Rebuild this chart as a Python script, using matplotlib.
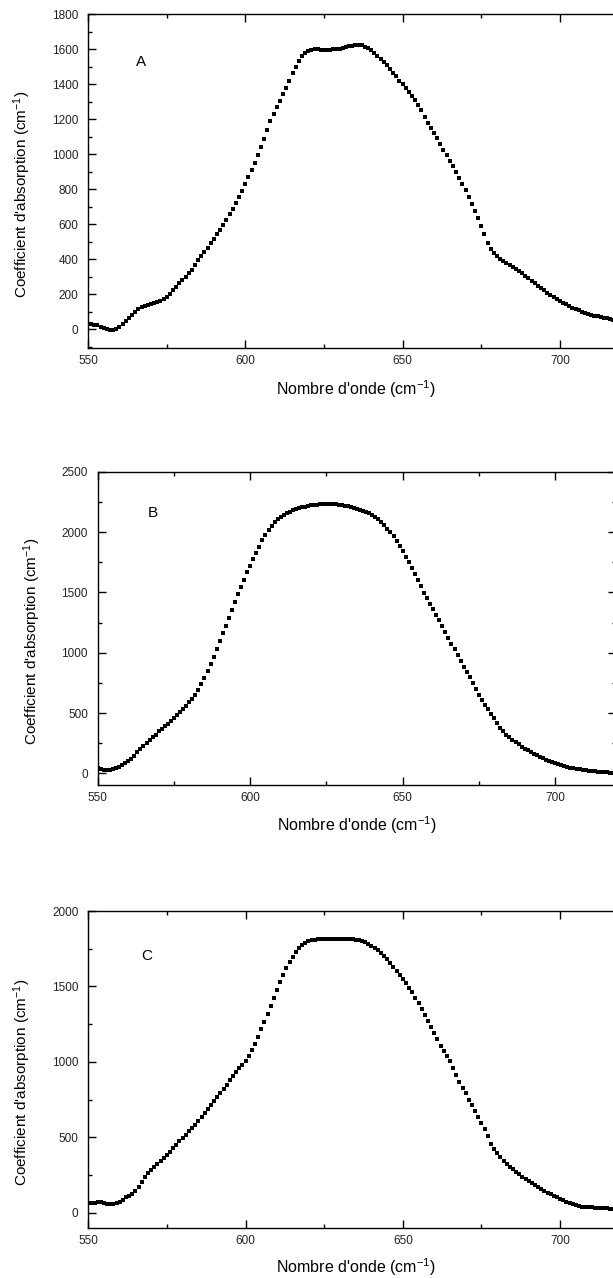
import numpy as np
import matplotlib
matplotlib.use("Agg")
import matplotlib.pyplot as plt
from matplotlib.ticker import MultipleLocator

plt.rcParams['font.family'] = ['Liberation Sans', 'DejaVu Sans']
plt.rcParams['mathtext.default'] = 'regular'

# Nombre d'onde (cm-1), un point par cm-1
onde_A = np.arange(550, 718)
onde_B = np.arange(550, 720)
onde_C = np.arange(550, 718)

coef_A = [30, 30, 27, 22, 15, 7, 0, -3, -2, 3,
          12, 28, 45, 64, 82, 100, 115, 127, 135, 140,
          144, 150, 156, 161, 172, 186, 204, 222, 243, 262,
          281, 300, 319, 338, 366, 395, 418, 442, 466, 491,
          517, 543, 570, 598, 627, 657, 688, 720, 754, 790,
          828, 868, 910, 952, 995, 1040, 1088, 1138, 1188, 1230,
          1268, 1304, 1342, 1380, 1420, 1462, 1500, 1532, 1558, 1578,
          1590, 1596, 1598, 1598, 1597, 1597, 1596, 1596, 1598, 1600,
          1602, 1606, 1610, 1615, 1620, 1624, 1626, 1622, 1614, 1604,
          1594, 1580, 1562, 1544, 1526, 1508, 1488, 1466, 1444, 1420,
          1398, 1376, 1354, 1334, 1310, 1282, 1250, 1212, 1180, 1150,
          1120, 1090, 1058, 1026, 994, 962, 930, 896, 862, 828,
          794, 756, 716, 676, 638, 592, 545, 495, 458, 436,
          418, 404, 392, 380, 368, 356, 344, 332, 320, 306,
          292, 278, 264, 250, 236, 222, 208, 196, 184, 172,
          163, 152, 142, 133, 124, 116, 108, 101, 95, 89,
          84, 79, 74, 70, 66, 62, 58, 55]

coef_B = [41, 38, 32, 28, 32, 38, 42, 55, 72, 85,
          100, 120, 145, 175, 205, 228, 250, 275, 298, 322,
          348, 372, 390, 410, 435, 460, 485, 510, 537, 562,
          588, 615, 648, 690, 740, 790, 845, 905, 965, 1030,
          1095, 1160, 1225, 1290, 1355, 1420, 1485, 1545, 1605, 1665,
          1720, 1775, 1830, 1880, 1930, 1975, 2015, 2050, 2080, 2105,
          2125, 2142, 2157, 2170, 2181, 2190, 2198, 2205, 2211, 2216,
          2220, 2224, 2227, 2229, 2230, 2231, 2232, 2232, 2230, 2227,
          2222, 2217, 2212, 2206, 2200, 2193, 2186, 2178, 2168, 2156,
          2142, 2125, 2105, 2082, 2056, 2028, 1998, 1965, 1928, 1885,
          1840, 1795, 1750, 1700, 1650, 1600, 1550, 1498, 1450, 1405,
          1360, 1315, 1268, 1220, 1170, 1120, 1075, 1030, 980, 930,
          885, 840, 795, 745, 697, 650, 605, 565, 530, 495,
          455, 415, 380, 350, 322, 298, 278, 258, 240, 222,
          205, 190, 176, 163, 150, 138, 126, 114, 104, 94,
          84, 76, 68, 60, 53, 47, 42, 37, 33, 29,
          26, 23, 20, 17, 14, 12, 10, 8, 6, 5]

coef_C = [65, 62, 65, 72, 70, 63, 60, 56, 55, 62,
          72, 85, 100, 112, 125, 140, 172, 205, 235, 260,
          282, 303, 323, 343, 363, 384, 405, 428, 450, 472,
          494, 516, 538, 560, 583, 605, 632, 658, 684, 711,
          738, 765, 793, 821, 849, 877, 905, 932, 958, 982,
          1008, 1040, 1078, 1120, 1166, 1215, 1266, 1318, 1372, 1425,
          1478, 1528, 1576, 1620, 1661, 1698, 1730, 1756, 1776, 1790,
          1800, 1806, 1810, 1812, 1812, 1812, 1812, 1813, 1814, 1815,
          1816, 1816, 1815, 1814, 1812, 1810, 1806, 1800, 1792, 1782,
          1770, 1756, 1740, 1722, 1702, 1680, 1656, 1630, 1604, 1578,
          1552, 1522, 1492, 1460, 1424, 1388, 1350, 1312, 1274, 1234,
          1192, 1150, 1108, 1072, 1038, 1003, 960, 915, 868, 828,
          790, 750, 712, 675, 636, 596, 552, 505, 455, 420,
          392, 366, 344, 322, 304, 287, 270, 254, 238, 222,
          208, 194, 180, 168, 156, 144, 132, 121, 112, 102,
          92, 82, 73, 64, 56, 49, 44, 40, 37, 35,
          34, 33, 33, 32, 30, 28, 25, 23]

fig = plt.figure(figsize=(6.13, 12.78), dpi=100)

# (position, x, y, lettre, ylim, pas majeur, pas mineur, position lettre, x du label y)
panneaux = [
    ([0.1436, 0.7279, 0.8724, 0.2611], onde_A, coef_A, 'A', (-105, 1800), 200, 100, (567, 1528), -0.103),
    ([0.1594, 0.3854, 0.8458, 0.2455], onde_B, coef_B, 'B', (-100, 2500), 500, 250, (568, 2158), -0.1055),
    ([0.1440, 0.0394, 0.8724, 0.2477], onde_C, coef_C, 'C', (-100, 2000), 500, 250, (568.5, 1701), -0.1034),
]

for pos, x, y, lettre, ylim, maj, mineur, pos_lettre, xlab_y in panneaux:
    ax = fig.add_axes(pos)
    ax.plot(x, y, 's', color='black', markersize=3.5, markeredgewidth=0)
    ax.set_xlim(550, 720)
    ax.set_ylim(*ylim)
    ax.xaxis.set_major_locator(MultipleLocator(50))
    ax.xaxis.set_minor_locator(MultipleLocator(25))
    ax.yaxis.set_major_locator(MultipleLocator(maj))
    ax.yaxis.set_minor_locator(MultipleLocator(mineur))
    ax.tick_params(which='both', direction='in', top=True, right=True,
                   labelsize=8.5, width=1, colors='black', labelcolor='#222222')
    ax.tick_params(which='major', length=6)
    ax.tick_params(which='minor', length=3)
    ax.tick_params(axis='x', pad=5)
    ax.tick_params(axis='y', pad=7)
    for s in ax.spines.values():
        s.set_linewidth(1)
    ax.set_xlabel("Nombre d'onde (cm$^{-1}$)", fontsize=11.5)
    ax.set_ylabel("Coefficient d'absorption (cm$^{-1}$)", fontsize=11)
    ax.xaxis.set_label_coords(0.5, -0.092)
    ax.yaxis.set_label_coords(xlab_y, 0.46)
    ax.text(pos_lettre[0], pos_lettre[1], lettre, fontsize=11, ha='center', va='center')

plt.savefig('out.png', dpi=100)
